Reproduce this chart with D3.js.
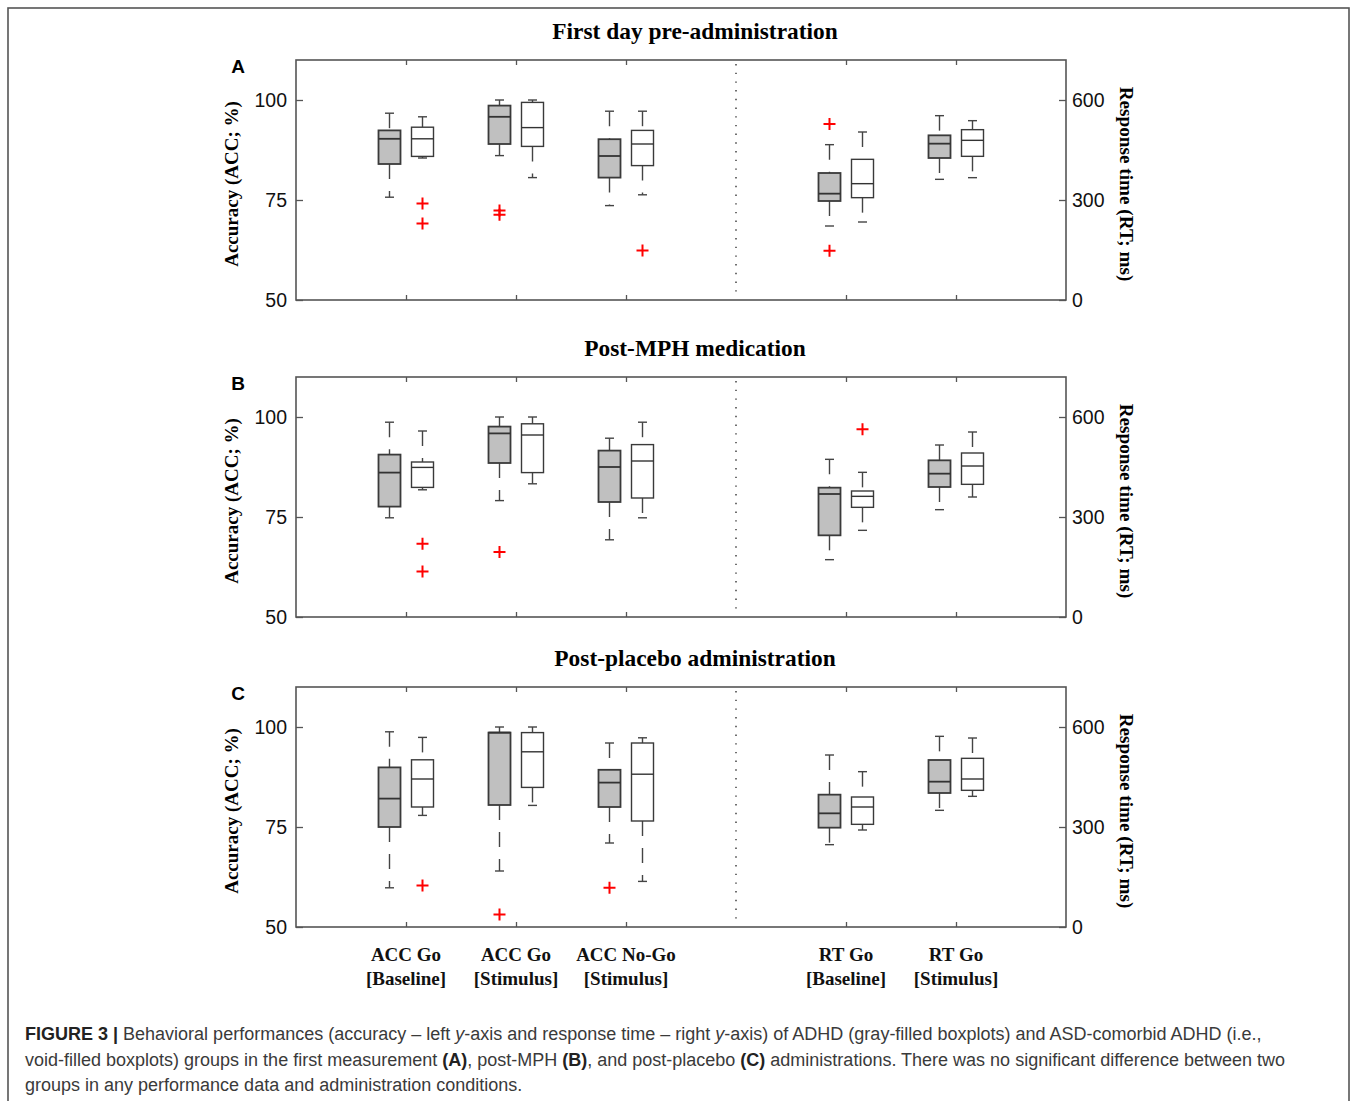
<!DOCTYPE html>
<html>
<head>
<meta charset="utf-8">
<script src="https://cdn.jsdelivr.net/npm/d3@7"></script>
<style>
  body { margin: 0; background: #fff; }
  svg { display: block; }
</style>
</head>
<body>
<div id="chart"></div>
<script>
// Panel titles and letters
const panelTitles = ["First day pre-administration", "Post-MPH medication", "Post-placebo administration"];
const panelLetters = ["A", "B", "C"];

// Categories (two lines each) and which y-axis they use
const categoryTop = ["ACC Go", "ACC Go", "ACC No-Go", "RT Go", "RT Go"];
const categoryBottom = ["[Baseline]", "[Stimulus]", "[Stimulus]", "[Baseline]", "[Stimulus]"];
const categoryAxis = ["acc", "acc", "acc", "rt", "rt"];
// slot order on the x axis ("divider" is the dotted line)
const slots = ["pad0", "c0", "c1", "c2", "divider", "c3", "c4", "pad1"];
const catSlots = ["c0", "c1", "c2", "c3", "c4"];

// Box stats [min, q1, median, q3, max]
// ADHD = gray, ASD-comorbid ADHD = white
const statsA_adhd = [[75.7, 84.0, 90.3, 92.4, 96.7], [86.1, 89.0, 95.8, 98.6, 100], [73.6, 80.6, 86.0, 90.2, 97.2], [222, 297, 319, 381, 466], [362, 426, 469, 494, 553]];
const statsA_asd  = [[85.5, 85.9, 90.3, 93.2, 95.8], [80.6, 88.4, 93.1, 99.4, 100], [76.3, 83.6, 89.0, 92.4, 97.2], [234, 307, 349, 422, 504], [367, 431, 479, 511, 538]];
const statsB_adhd = [[74.8, 77.6, 86.1, 90.6, 98.7], [79.1, 88.5, 95.9, 97.6, 100], [69.3, 78.75, 87.5, 91.6, 94.7], [172, 245, 369, 388, 473], [322, 390, 430, 470, 516]];
const statsB_asd  = [[81.8, 82.4, 87.4, 88.75, 96.5], [83.3, 86.1, 95.5, 98.3, 100], [74.8, 79.75, 89.0, 93.1, 98.7], [260, 329, 362, 378, 434], [360, 398, 453, 492, 555]];
const statsC_adhd = [[59.8, 75.0, 82.1, 89.9, 98.8], [64.0, 80.5, 98.6, 98.6, 100], [71.0, 80.0, 86.1, 89.3, 96.0], [247, 298, 341, 397, 516], [350, 402, 436, 501, 572]];
const statsC_asd  = [[77.9, 80.0, 87.0, 91.8, 97.4], [80.4, 84.9, 93.8, 98.6, 100], [61.4, 76.5, 88.2, 96.0, 97.3], [291, 308, 360, 390, 466], [392, 410, 444, 506, 567]];

// Outliers (red +)
const outA_adhd = [[], [72.4, 71.3], [], [528, 148], []];
const outA_asd  = [[74.1, 69.1], [], [62.4], [], []];
const outB_adhd = [[], [66.25], [], [], []];
const outB_asd  = [[68.3, 61.4], [], [], [563], []];
const outC_adhd = [[], [53.1], [59.8], [], []];
const outC_asd  = [[60.4], [], [], [], []];

// Axis ticks
const accTicks = [50, 75, 100];
const rtTicks = [0, 300, 600];
const accDomain = [50, 110];
const rtDomain = [0, 720];

const panels = [
  { adhd: statsA_adhd, asd: statsA_asd, outAdhd: outA_adhd, outAsd: outA_asd },
  { adhd: statsB_adhd, asd: statsB_asd, outAdhd: outB_adhd, outAsd: outB_asd },
  { adhd: statsC_adhd, asd: statsC_asd, outAdhd: outC_adhd, outAsd: outC_asd }
];

const W = 1357, H = 1101;
const plotLeft = 296, plotRight = 1066, plotH = 240;
const panelTops = [60, 377, 687];
const boxW = 22, groupOffset = 16.5, capW = 9;
const serif = "'Liberation Serif', 'Times New Roman', serif";
const sans = "'Liberation Sans', Arial, sans-serif";

const svg = d3.select("#chart").append("svg")
  .attr("width", W)
  .attr("height", H);

// outer figure frame
svg.append("rect")
  .attr("x", 8).attr("y", 8)
  .attr("width", 1341).attr("height", 1120)
  .attr("fill", "none")
  .attr("stroke", "#555")
  .attr("stroke-width", 1.6);

const x = d3.scalePoint().domain(slots).range([plotLeft, plotRight]);

panels.forEach((p, pi) => {
  const top = panelTops[pi];
  const bottom = top + plotH;
  const yAcc = d3.scaleLinear().domain(accDomain).range([bottom, top]);
  const yRt = d3.scaleLinear().domain(rtDomain).range([bottom, top]);
  const g = svg.append("g");

  // title
  g.append("text")
    .attr("x", 695)
    .attr("y", top - 21)
    .attr("text-anchor", "middle")
    .style("font-family", serif)
    .style("font-weight", "bold")
    .style("font-size", "23.4px")
    .text(panelTitles[pi]);

  // panel letter
  g.append("text")
    .attr("x", 238)
    .attr("y", top + 13)
    .attr("text-anchor", "middle")
    .style("font-family", sans)
    .style("font-weight", "bold")
    .style("font-size", "19px")
    .text(panelLetters[pi]);

  // dotted divider
  g.append("line")
    .attr("x1", x("divider")).attr("x2", x("divider"))
    .attr("y1", top + 4).attr("y2", bottom - 2)
    .attr("stroke", "#333")
    .attr("stroke-width", 1.4)
    .attr("stroke-dasharray", "1.4,7.3");

  // axes
  const leftAxis = g.append("g")
    .attr("transform", `translate(${plotLeft},0)`)
    .call(d3.axisLeft(yAcc).tickValues(accTicks).tickSizeInner(-7).tickSizeOuter(0).tickPadding(9));
  const rightAxis = g.append("g")
    .attr("transform", `translate(${plotRight},0)`)
    .call(d3.axisRight(yRt).tickValues(rtTicks).tickSizeInner(-7).tickSizeOuter(0).tickPadding(6));
  const bottomAxis = g.append("g")
    .attr("transform", `translate(0,${bottom})`)
    .call(d3.axisBottom(x).tickValues(catSlots).tickSizeInner(-5).tickSizeOuter(0).tickFormat(""));
  const topAxis = g.append("g")
    .attr("transform", `translate(0,${top})`)
    .call(d3.axisTop(x).tickValues(catSlots).tickSizeInner(-5).tickSizeOuter(0).tickFormat(""));

  [leftAxis, rightAxis, bottomAxis, topAxis].forEach(a => {
    a.select(".domain").remove();
    a.selectAll(".tick line").attr("stroke", "#555").attr("stroke-width", 1.3);
    a.selectAll(".tick text")
      .style("font-family", sans)
      .style("font-size", "19.5px")
      .attr("fill", "#111");
  });

  // frame
  g.append("rect")
    .attr("x", plotLeft).attr("y", top)
    .attr("width", plotRight - plotLeft).attr("height", plotH)
    .attr("fill", "none")
    .attr("stroke", "#555")
    .attr("stroke-width", 1.6);

  // y labels
  g.append("text")
    .attr("transform", `translate(231,${top + 124}) rotate(-90)`)
    .attr("text-anchor", "middle")
    .attr("dy", "0.35em")
    .style("font-family", serif)
    .style("font-weight", "bold")
    .style("font-size", "19px")
    .text("Accuracy (ACC; %)");
  g.append("text")
    .attr("transform", `translate(1127,${top + 124}) rotate(90)`)
    .attr("text-anchor", "middle")
    .attr("dy", "0.35em")
    .style("font-family", serif)
    .style("font-weight", "bold")
    .style("font-size", "19.2px")
    .text("Response time (RT; ms)");

  // boxes
  const groups = [
    { stats: p.adhd, outs: p.outAdhd, dx: -groupOffset, fill: "#c0c0c0", sw: 1.8 },
    { stats: p.asd, outs: p.outAsd, dx: groupOffset, fill: "#fff", sw: 1.4 }
  ];
  groups.forEach(grp => {
    grp.stats.forEach((s, ci) => {
      const y = categoryAxis[ci] === "acc" ? yAcc : yRt;
      const cx = x(catSlots[ci]) + grp.dx;
      const [mn, q1, md, q3, mx] = s;
      const bg = g.append("g");
      // whiskers (dashed)
      bg.append("line")
        .attr("x1", cx).attr("x2", cx)
        .attr("y1", y(mx)).attr("y2", y(q3))
        .attr("stroke", "#444").attr("stroke-width", 1.4)
        .attr("stroke-dasharray", "15,12");
      bg.append("line")
        .attr("x1", cx).attr("x2", cx)
        .attr("y1", y(q1)).attr("y2", y(mn))
        .attr("stroke", "#444").attr("stroke-width", 1.4)
        .attr("stroke-dasharray", "15,12");
      // caps
      [mn, mx].forEach(v => {
        bg.append("line")
          .attr("x1", cx - capW / 2).attr("x2", cx + capW / 2)
          .attr("y1", y(v)).attr("y2", y(v))
          .attr("stroke", "#444").attr("stroke-width", 1.4);
      });
      // box
      bg.append("rect")
        .attr("x", cx - boxW / 2)
        .attr("y", y(q3))
        .attr("width", boxW)
        .attr("height", y(q1) - y(q3))
        .attr("fill", grp.fill)
        .attr("stroke", "#3a3a3a")
        .attr("stroke-width", grp.sw);
      // median
      bg.append("line")
        .attr("x1", cx - boxW / 2).attr("x2", cx + boxW / 2)
        .attr("y1", y(md)).attr("y2", y(md))
        .attr("stroke", "#333").attr("stroke-width", grp.sw);
      // outliers
      grp.outs[ci].forEach(v => {
        bg.append("path")
          .attr("d", `M${cx - 6},${y(v)}H${cx + 6}M${cx},${y(v) - 6}V${y(v) + 6}`)
          .attr("stroke", "#f00")
          .attr("stroke-width", 2)
          .attr("fill", "none");
      });
    });
  });
});

// category labels under last panel
const lastBottom = panelTops[2] + plotH;
catSlots.forEach((c, i) => {
  const t = svg.append("text")
    .attr("x", x(c))
    .attr("text-anchor", "middle")
    .style("font-family", serif)
    .style("font-weight", "bold")
    .style("font-size", "19px")
    .attr("fill", "#111");
  t.append("tspan").attr("x", x(c)).attr("y", lastBottom + 34).text(categoryTop[i]);
  t.append("tspan").attr("x", x(c)).attr("y", lastBottom + 58).text(categoryBottom[i]);
});

// caption
const captionLines = [
  [["b", "FIGURE 3 | "], ["n", "Behavioral performances (accuracy \u2013 left "], ["i", "y"], ["n", "-axis and response time \u2013 right "], ["i", "y"], ["n", "-axis) of ADHD (gray-filled boxplots) and ASD-comorbid ADHD (i.e.,"]],
  [["n", "void-filled boxplots) groups in the first measurement "], ["b", "(A)"], ["n", ", post-MPH "], ["b", "(B)"], ["n", ", and post-placebo "], ["b", "(C)"], ["n", " administrations. There was no significant difference between two"]],
  [["n", "groups in any performance data and administration conditions."]]
];
const captionY = [1040, 1066, 1091];
captionLines.forEach((line, li) => {
  const t = svg.append("text")
    .attr("x", 25)
    .attr("y", captionY[li])
    .style("font-family", sans)
    .style("font-size", "18px")
    .attr("fill", "#3a3a3a");
  line.forEach(([k, s]) => {
    const sp = t.append("tspan").text(s);
    if (k === "b") sp.style("font-weight", "bold").attr("fill", "#222");
    if (k === "i") sp.style("font-style", "italic");
  });
});
</script>
</body>
</html>
